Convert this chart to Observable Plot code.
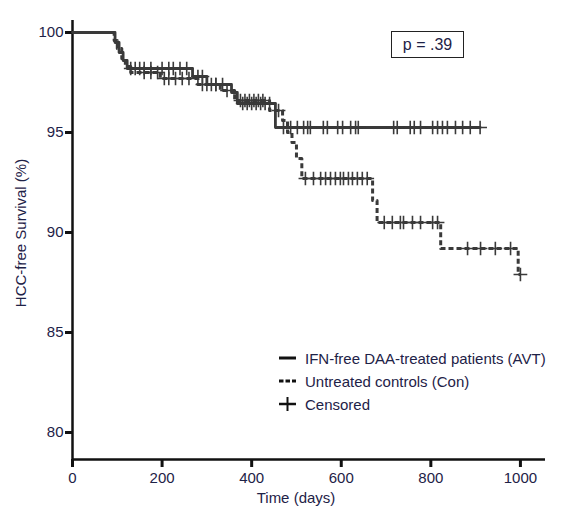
<!DOCTYPE html>
<html>
<head>
<meta charset="utf-8">
<script src="https://cdn.jsdelivr.net/npm/d3@7"></script>
<script src="https://cdn.jsdelivr.net/npm/@observablehq/plot@0.6"></script>
<style>
  body { margin: 0; background: #fff; }
  #wrap { position: relative; width: 567px; height: 510px; font-family: "Liberation Sans", Arial, sans-serif; color: #1e2247; }
  .pbox { position: absolute; left: 391px; top: 31px; width: 73px; height: 27px; border: 1.5px solid #222; box-sizing: border-box;
          font-size: 16px; display: flex; align-items: center; justify-content: center; }
  .leg { position: absolute; left: 278px; font-size: 15px; display: flex; align-items: center; height: 20px; white-space: nowrap; }
  .sym { width: 20px; height: 14px; margin-right: 7px; position: relative; display: flex; align-items: center; }
  .xlab { position: absolute; left: 0; width: 592px; top: 489px; text-align: center; font-size: 15px; }
  .ylab { position: absolute; left: 20px; top: 233px; font-size: 15px; white-space: nowrap; transform: translate(-50%, -50%) rotate(-90deg); }
</style>
</head>
<body>
<div id="wrap"></div>
<script>
// Kaplan–Meier step data (time in days, survival %)
const avtTimes = [0, 95, 104, 113, 122, 268, 300, 355, 368, 453];
const avtSurv  = [100, 99.5, 99.0, 98.6, 98.2, 97.8, 97.4, 97.0, 96.45, 95.25];
const avtEnd = 910;
const avtCensor = [130, 140, 150, 160, 175, 200, 215, 225, 240, 255, 280, 290, 320, 335, 380, 390, 400, 410, 420, 430, 440,
  471, 487, 502, 516, 525, 531, 560, 569, 592, 603, 621, 632, 638, 717, 725, 754, 763, 777, 804, 815, 826, 837, 855, 871, 888, 910];

const conTimes = [0, 93, 100, 110, 118, 130, 196, 280, 330, 362, 440, 469, 480, 490, 500, 512, 670, 680, 822, 995];
const conSurv  = [100, 99.6, 99.2, 98.7, 98.3, 98.0, 97.7, 97.4, 97.1, 96.6, 96.1, 95.6, 95.0, 94.5, 93.7, 92.7, 91.6, 90.5, 89.2, 87.9];
const conEnd = 1000;
const conCensor = [160, 175, 190, 205, 215, 230, 245, 260, 290, 300, 310, 320, 345, 375, 385, 395, 405, 415, 425, 460,
  520, 538, 554, 565, 576, 587, 598, 605, 616, 625, 636, 647, 658, 696, 714, 732, 739, 759, 777, 804, 815, 882, 911, 944, 978, 1000];

const xTicks = [0, 200, 400, 600, 800, 1000];
const yTicks = [80, 85, 90, 95, 100];
const xLabel = "Time (days)";
const yLabel = "HCC-free Survival (%)";
const pText = "p = .39";
const legendLabels = ["IFN-free DAA-treated patients (AVT)", "Untreated controls (Con)", "Censored"];

function survAt(times, surv, t) {
  let s = surv[0];
  for (let i = 0; i < times.length; i++) if (times[i] <= t) s = surv[i];
  return s;
}
function stepLine(times, surv, end) {
  const pts = times.map((t, i) => ({t, s: surv[i]}));
  pts.push({t: end, s: surv[surv.length - 1]});
  return pts;
}
const avtLine = stepLine(avtTimes, avtSurv, avtEnd);
const conLine = stepLine(conTimes, conSurv, conEnd);
const avtC = avtCensor.map(t => ({t, s: survAt(avtTimes, avtSurv, t)}));
const conC = conCensor.map(t => ({t, s: survAt(conTimes, conSurv, t)}));

const ink = "#3a3a3a";
const txt = "#1e2247";

const chart = Plot.plot({
  width: 567,
  height: 510,
  marginLeft: 72,
  marginRight: 22,
  marginTop: 20,
  marginBottom: 51,
  style: {fontFamily: "Liberation Sans, Arial, sans-serif", fontSize: "15px", color: txt, background: "white"},
  x: {domain: [0, 1056]},
  y: {domain: [78.65, 100.6]},
  marks: [
    Plot.axisX({ticks: xTicks, tickFormat: d => String(d), tickSize: 8, strokeWidth: 3, stroke: "#111", tickPadding: 5, fontSize: 15,
      label: null, fill: txt}),
    Plot.axisY({ticks: yTicks, tickFormat: d => String(d), tickSize: 7, strokeWidth: 3, stroke: "#111", tickPadding: 2, fontSize: 15,
      label: null, fill: txt}),
    Plot.ruleX([0], {stroke: "#111", strokeWidth: 2.5}),
    Plot.ruleY([78.65], {stroke: "#111", strokeWidth: 2.5}),
    Plot.line(conLine, {x: "t", y: "s", curve: "step-after", stroke: ink, strokeWidth: 3, strokeDasharray: "5,3", strokeLinecap: "butt"}),
    Plot.line(avtLine, {x: "t", y: "s", curve: "step-after", stroke: ink, strokeWidth: 2.8}),
    Plot.dot(conC, {x: "t", y: "s", symbol: "plus", r: 4.5, stroke: ink, strokeWidth: 1.6}),
    Plot.dot(avtC, {x: "t", y: "s", symbol: "plus", r: 4.5, stroke: ink, strokeWidth: 1.6})
  ]
});

const wrap = document.getElementById("wrap");
wrap.appendChild(chart);

const xl = document.createElement("div");
xl.className = "xlab"; xl.textContent = xLabel; wrap.appendChild(xl);
const yl = document.createElement("div");
yl.className = "ylab"; yl.textContent = yLabel; wrap.appendChild(yl);

const pb = document.createElement("div");
pb.className = "pbox";
pb.textContent = pText;
wrap.appendChild(pb);

const legendTypes = ["solid", "dash", "plus"];
const legendTops = [348, 371, 394];
legendLabels.forEach((label, i) => {
  const d = document.createElement("div");
  d.className = "leg";
  d.style.top = legendTops[i] + "px";
  const type = legendTypes[i];
  let svg;
  if (type === "solid") svg = `<svg width="20" height="14"><line x1="1" y1="7" x2="18" y2="7" stroke="#111" stroke-width="3"/></svg>`;
  else if (type === "dash") svg = `<svg width="20" height="14"><line x1="1" y1="7" x2="18" y2="7" stroke="#111" stroke-width="3" stroke-dasharray="4.5,2"/></svg>`;
  else svg = `<svg width="20" height="14"><line x1="1" y1="7" x2="18" y2="7" stroke="#111" stroke-width="2.5"/><line x1="9.5" y1="0" x2="9.5" y2="14" stroke="#111" stroke-width="2"/></svg>`;
  d.innerHTML = `<span class="sym">${svg}</span><span>${label}</span>`;
  wrap.appendChild(d);
});
</script>
</body>
</html>
